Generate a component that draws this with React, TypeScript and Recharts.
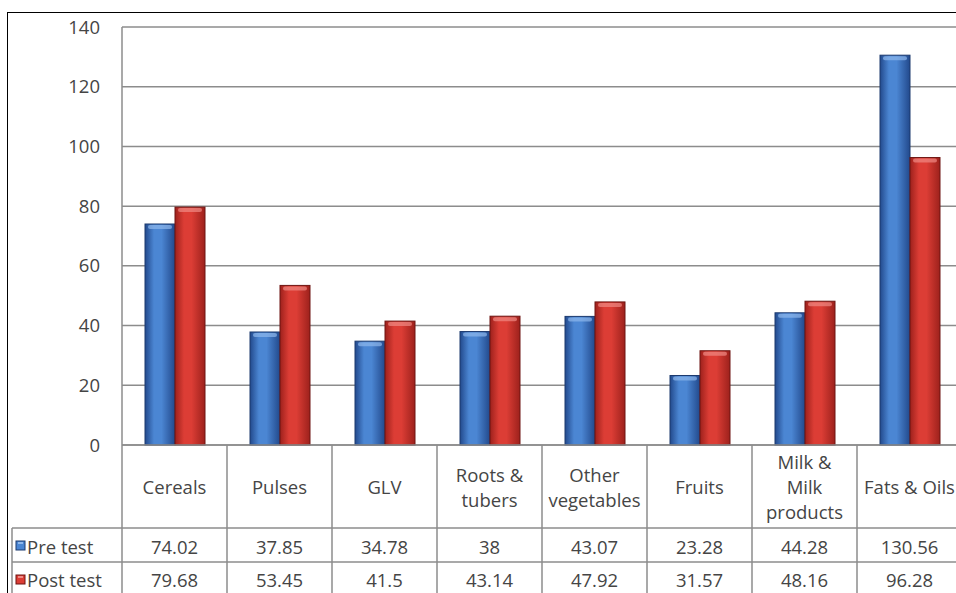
import React from 'react';
import { BarChart, Bar, XAxis, YAxis, CartesianGrid } from 'recharts';

const categories = ['Cereals', 'Pulses', 'GLV', 'Roots & tubers', 'Other vegetables', 'Fruits', 'Milk & Milk products', 'Fats & Oils'];
const categoryLines = [['Cereals'], ['Pulses'], ['GLV'], ['Roots &', 'tubers'], ['Other', 'vegetables'], ['Fruits'], ['Milk &', 'Milk', 'products'], ['Fats & Oils']];
const preTest = [74.02, 37.85, 34.78, 38, 43.07, 23.28, 44.28, 130.56];
const postTest = [79.68, 53.45, 41.5, 43.14, 47.92, 31.57, 48.16, 96.28];
const preTestLabels = ['74.02', '37.85', '34.78', '38', '43.07', '23.28', '44.28', '130.56'];
const postTestLabels = ['79.68', '53.45', '41.5', '43.14', '47.92', '31.57', '48.16', '96.28'];
const seriesNames = ['Pre test', 'Post test'];
const yTicks = [0, 20, 40, 60, 80, 100, 120, 140];

const data = categories.map((name, i) => ({ name, pre: preTest[i], post: postTest[i] }));

const CHART_W = 970;
const CHART_H = 593;
const MARGIN = { top: 27, right: 8, left: 0, bottom: 0 };
const YAXIS_W = 122;
const XAXIS_H = 148;
const BAND = (CHART_W - MARGIN.left - MARGIN.right - YAXIS_W) / categories.length;
const LEGEND_W = 110;
const FONT = '"Open Sans", sans-serif';
const FS = 18.5;
const TEXT = '#454545';
const LINE = '#8c8c8c';

const LABEL_ROW_H = 83;
const VALUE_ROW_H = 34;

const BLUE = { dark: '#22498c', mid: '#4b86d3', light: '#8fb8ec', stroke: '#1c3a6e' };
const RED = { dark: '#9d211c', mid: '#dc3d35', light: '#f08a84', stroke: '#6e1512' };

const Gloss = (props: any) => {
  const { x, y, width, height, c, id } = props;
  if (!height || height <= 0) return null;
  return (
    <g>
      <defs>
        <linearGradient id={id} x1="0" y1="0" x2="1" y2="0">
          <stop offset="0%" stopColor={c.dark} />
          <stop offset="30%" stopColor={c.mid} />
          <stop offset="55%" stopColor={c.mid} />
          <stop offset="100%" stopColor={c.dark} />
        </linearGradient>
      </defs>
      <rect x={x} y={y} width={width} height={height} fill={`url(#${id})`} stroke={c.stroke} strokeWidth={1} />
      <rect x={x + 3} y={y + 1} width={width - 6} height={4} fill={c.light} opacity={0.7} rx={2} />
    </g>
  );
};

const LegendSquare = ({ x, y, c }: any) => (
  <g>
    <rect x={x} y={y} width={9} height={9} fill={c.mid} stroke={c.stroke} strokeWidth={1} />
    <rect x={x + 2} y={y + 1} width={5} height={2} fill={c.light} />
  </g>
);

const TableTick = (props: any) => {
  const { x, y, payload } = props;
  const i = payload.index;
  const left = x - BAND / 2;
  const right = x + BAND / 2;
  const rowA = y + LABEL_ROW_H;
  const rowB = rowA + VALUE_ROW_H;
  const bottom = y + XAXIS_H;
  const lines = categoryLines[i];
  const textProps = { fontFamily: FONT, fontSize: FS, fill: TEXT, textAnchor: 'middle' as const, dominantBaseline: 'central' as const };
  return (
    <g>
      <line x1={left} y1={y} x2={left} y2={bottom} stroke={LINE} strokeWidth={1.5} />
      {i === categories.length - 1 && <line x1={right} y1={y} x2={right} y2={bottom} stroke={LINE} strokeWidth={1.5} />}
      <line x1={left} y1={rowA} x2={right} y2={rowA} stroke={LINE} strokeWidth={1.5} />
      <line x1={left} y1={rowB} x2={right} y2={rowB} stroke={LINE} strokeWidth={1.5} />
      {lines.map((t, j) => (
        <text key={j} x={x} y={y + LABEL_ROW_H / 2 + (j - (lines.length - 1) / 2) * 25} {...textProps}>{t}</text>
      ))}
      <text x={x} y={rowA + VALUE_ROW_H / 2 + 1} {...textProps}>{preTestLabels[i]}</text>
      <text x={x} y={rowB + VALUE_ROW_H / 2} {...textProps}>{postTestLabels[i]}</text>
      {i === 0 && (
        <g>
          <line x1={left - LEGEND_W} y1={rowA} x2={left} y2={rowA} stroke={LINE} strokeWidth={1.5} />
          <line x1={left - LEGEND_W} y1={rowB} x2={left} y2={rowB} stroke={LINE} strokeWidth={1.5} />
          <line x1={left - LEGEND_W} y1={rowA} x2={left - LEGEND_W} y2={bottom} stroke={LINE} strokeWidth={1.5} />
          <LegendSquare x={left - LEGEND_W + 4} y={rowA + VALUE_ROW_H / 2 - 4} c={BLUE} />
          <LegendSquare x={left - LEGEND_W + 4} y={rowB + VALUE_ROW_H / 2 - 4} c={RED} />
          <text x={left - LEGEND_W + 15} y={rowA + VALUE_ROW_H / 2 + 1} {...textProps} textAnchor="start">{seriesNames[0]}</text>
          <text x={left - LEGEND_W + 15} y={rowB + VALUE_ROW_H / 2} {...textProps} textAnchor="start">{seriesNames[1]}</text>
        </g>
      )}
    </g>
  );
};

export default function App() {
  return (
    <div style={{ position: 'fixed', left: 0, top: 0, width: 956, height: 593, overflow: 'hidden', background: '#fff' }}>
      <div style={{ position: 'absolute', left: 7, top: 12, width: 1100, height: 800, border: '1px solid #000' }} />
      <div style={{ position: 'absolute', left: 0, top: 0 }}>
        <BarChart width={CHART_W} height={CHART_H} data={data} margin={MARGIN} barGap={0} barSize={30}>
          <CartesianGrid horizontal vertical={false} stroke={LINE} strokeWidth={1.5} />
          <YAxis
            width={YAXIS_W}
            domain={[0, 140]}
            ticks={yTicks}
            interval={0}
            axisLine={{ stroke: LINE, strokeWidth: 1.5 }}
            tickLine={false}
            tickSize={0}
            tickMargin={22}
            tick={{ fontFamily: FONT, fontSize: FS, fill: TEXT }}
          />
          <XAxis
            dataKey="name"
            height={XAXIS_H}
            interval={0}
            axisLine={{ stroke: LINE, strokeWidth: 1.5 }}
            tickLine={false}
            tickSize={0}
            tickMargin={0}
            tick={(p: any) => <TableTick {...p} />}
          />
          <Bar dataKey="pre" isAnimationActive={false} shape={(p: any) => <Gloss {...p} c={BLUE} id={`gb${p.index}`} />} />
          <Bar dataKey="post" isAnimationActive={false} shape={(p: any) => <Gloss {...p} c={RED} id={`gr${p.index}`} />} />
        </BarChart>
      </div>
    </div>
  );
}
